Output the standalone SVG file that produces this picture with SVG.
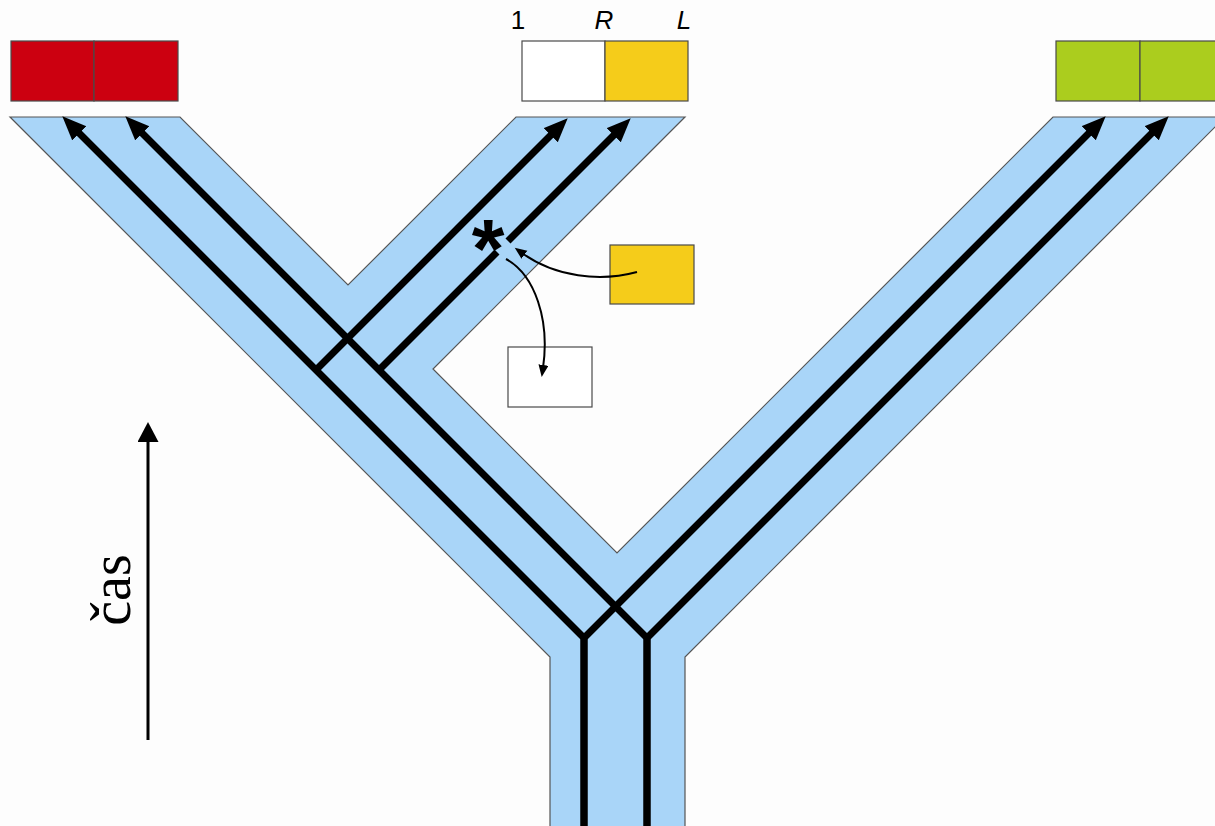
<svg xmlns="http://www.w3.org/2000/svg" width="1215" height="826" viewBox="0 0 1215 826">
<style>
.box{stroke:#4a4a4a;stroke-width:1.2}
.strand{fill:none;stroke:#000;stroke-width:7;stroke-linejoin:miter;stroke-miterlimit:10}
.thin{fill:none;stroke:#000;stroke-width:2}
.lbl{font-family:"Liberation Sans",Arial,sans-serif;font-size:26px;fill:#000}
</style>
<defs>
<marker id="ah" markerUnits="userSpaceOnUse" markerWidth="26" markerHeight="22" refX="11" refY="10" orient="auto">
<path d="M0,0 L24,10 L0,20 z" fill="#000"/>
</marker>
<marker id="sh" markerUnits="userSpaceOnUse" markerWidth="14" markerHeight="12" refX="3" refY="5" orient="auto">
<path d="M0,0 L12,5 L0,10 z" fill="#000"/>
</marker>
<marker id="th" markerUnits="userSpaceOnUse" markerWidth="24" markerHeight="24" refX="4" refY="10.5" orient="auto">
<path d="M0,0 L20,10.5 L0,21 z" fill="#000"/>
</marker>
</defs>
<rect width="1215" height="826" fill="#fdfdfd"/>
<g id="fork">
<path d="M10,117 L180,117 L348,285 L516,117 L685,117 L433,369 L617,553 L1053,117 L1225,117 L685,657 L685,830 L550,830 L550,657 Z" fill="#a9d5f8" stroke="#555" stroke-width="1.2"/>
</g>
<g id="red-box">
<rect class="box" x="11" y="41" width="83" height="60" fill="#cc0010"/>
<rect class="box" x="94" y="41" width="84" height="60" fill="#cc0010"/>
</g>
<g id="mid-box">
<rect class="box" x="522" y="41" width="83" height="60" fill="#ffffff"/>
<rect class="box" x="605" y="41" width="83" height="60" fill="#f5cc1a"/>
<text class="lbl" x="518" y="29" text-anchor="middle">1</text>
<text class="lbl" x="604" y="29" text-anchor="middle" font-style="italic">R</text>
<text class="lbl" x="684" y="29" text-anchor="middle" font-style="italic">L</text>
</g>
<g id="green-box">
<rect class="box" x="1056" y="41" width="84" height="60" fill="#abcd1e"/>
<rect class="box" x="1140" y="41" width="84" height="60" fill="#abcd1e"/>
</g>
<g id="yellow-box">
<rect class="box" x="610" y="245" width="84" height="59" fill="#f5cc1a"/>
</g>
<g id="white-box">
<rect class="box" x="508" y="347" width="84" height="60" fill="#ffffff"/>
</g>
<g id="connectors">
<polyline class="strand" points="584,830 584,638 71.5,125.5" marker-end="url(#ah)"/>
<polyline class="strand" points="584,830 584,638 1096.5,125.5" marker-end="url(#ah)"/>
<polyline class="strand" points="647,830 647,638 134.5,125.5" marker-end="url(#ah)"/>
<polyline class="strand" points="647,830 647,638 1159.5,125.5" marker-end="url(#ah)"/>
<line class="strand" x1="316" y1="370" x2="558.5" y2="127.5" marker-end="url(#ah)"/>
<line class="strand" x1="379" y1="370" x2="497" y2="252"/>
<line class="strand" x1="508" y1="241" x2="621.5" y2="127.5" marker-end="url(#ah)"/>
<path class="thin" d="M637,272 C600,282 555,277 522,253" marker-end="url(#sh)"/>
<path class="thin" d="M506,259 C535,275 550,320 543,368" marker-end="url(#sh)"/>
<line x1="148" y1="740" x2="148" y2="438" stroke="#000" stroke-width="3" marker-end="url(#th)"/>
</g>
<g id="asterisk">
<text x="488" y="278" text-anchor="middle" font-family="Liberation Sans,Arial,sans-serif" font-weight="bold" font-size="84" fill="#000">*</text>
</g>
<g id="time-label">
<text transform="translate(130,590) rotate(-90)" text-anchor="middle" font-family="Liberation Serif,Times New Roman,serif" font-size="56" fill="#000">čas</text>
</g>
</svg>
